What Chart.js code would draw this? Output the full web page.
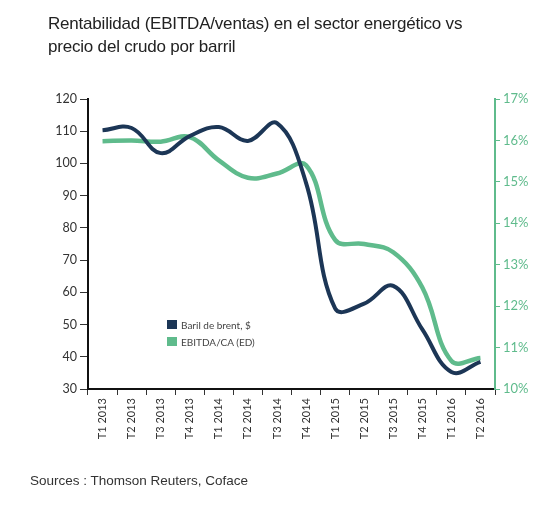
<!DOCTYPE html>
<html>
<head>
<meta charset="utf-8">
<script src="https://cdn.jsdelivr.net/npm/chart.js@4.4.1/dist/chart.umd.min.js"></script>
<style>
  body { margin: 0; background: #fff; }
  #wrap { position: relative; width: 552px; height: 523px; }
  #title { position: absolute; left: 48px; top: 12px; font: 17px "Liberation Sans", Arial, sans-serif; color: #222; line-height: 23px; letter-spacing: -0.2px; }
  #source { position: absolute; left: 30px; top: 473px; font: 13.5px "Liberation Sans", Arial, sans-serif; color: #333; }
  #legend { position: absolute; left: 167px; top: 316px; font: 10px Lato, sans-serif; color: #444; }
  #legend div { height: 17px; display: flex; align-items: center; }
  #legend span { display: inline-block; width: 10px; height: 9px; margin-right: 4px; }
</style>
</head>
<body>
<div id="wrap">
  <canvas id="chart" width="552" height="523"></canvas>
  <div id="title">Rentabilidad (EBITDA/ventas) en el sector energético vs<br>precio del crudo por barril</div>
  <div id="legend">
    <div><span style="background:#1c3656"></span>Baril de brent, $</div>
    <div><span style="background:#5fbb8c"></span>EBITDA/CA (ED)</div>
  </div>
  <div id="source">Sources : Thomson Reuters, Coface</div>
</div>
<script>
const quarters = ['T1 2013', 'T2 2013', 'T3 2013', 'T4 2013', 'T1 2014', 'T2 2014', 'T3 2014',
                  'T4 2014', 'T1 2015', 'T2 2015', 'T3 2015', 'T4 2015', 'T1 2016', 'T2 2016'];
const brent = [110.3, 111, 103.2, 108.5, 111.3, 107, 112.5, 94, 55, 56.5, 62, 48.5, 35.3, 38.4];
const ebitda = [15.98, 16.0, 15.97, 16.08, 15.52, 15.1, 15.2, 15.4, 13.6, 13.5, 13.3, 12.45, 10.68, 10.75];

const navy = '#1c3656';
const green = '#5fbb8c';

const ctx = document.getElementById('chart').getContext('2d');

new Chart(ctx, {
    type: 'line',
    data: {
        labels: quarters,
        datasets: [
            {
                label: 'Baril de brent, $',
                data: brent,
                yAxisID: 'y',
                borderColor: navy,
                borderWidth: 4,
                pointRadius: 0,
                tension: 0.4
            },
            {
                label: 'EBITDA/CA (ED)',
                data: ebitda,
                yAxisID: 'y1',
                borderColor: green,
                borderWidth: 4.5,
                pointRadius: 0,
                tension: 0.4
            }
        ]
    },
    options: {
        responsive: false,
        animation: false,
        layout: { padding: { top: 99, left: 0, right: 0, bottom: 0 } },
        plugins: {
            legend: { display: false },
            tooltip: { enabled: false }
        },
        scales: {
            x: {
                offset: true,
                afterFit: (s) => { s.height = 134; },
                grid: { offset: true, drawOnChartArea: false, color: '#333', tickLength: 6 },
                border: { color: '#111', width: 2 },
                ticks: { minRotation: 90, maxRotation: 90, padding: 3, color: '#333', font: { family: 'Lato', size: 11 } }
            },
            y: {
                position: 'left',
                min: 30,
                max: 120,
                afterFit: (s) => { s.width = 88; },
                grid: { drawOnChartArea: false, color: '#333', tickLength: 8 },
                border: { color: '#111', width: 2 },
                ticks: { stepSize: 10, padding: 3, color: '#333', font: { family: 'Lato', size: 12.5 } }
            },
            y1: {
                position: 'right',
                min: 10,
                max: 17,
                afterFit: (s) => { s.width = 57; },
                grid: { drawOnChartArea: false, color: green, tickLength: 5 },
                border: { color: green, width: 2 },
                ticks: { stepSize: 1, padding: 3, color: green, font: { family: 'Lato', size: 13 },
                         callback: (v) => v + '%' }
            }
        }
    }
});
</script>
</body>
</html>
